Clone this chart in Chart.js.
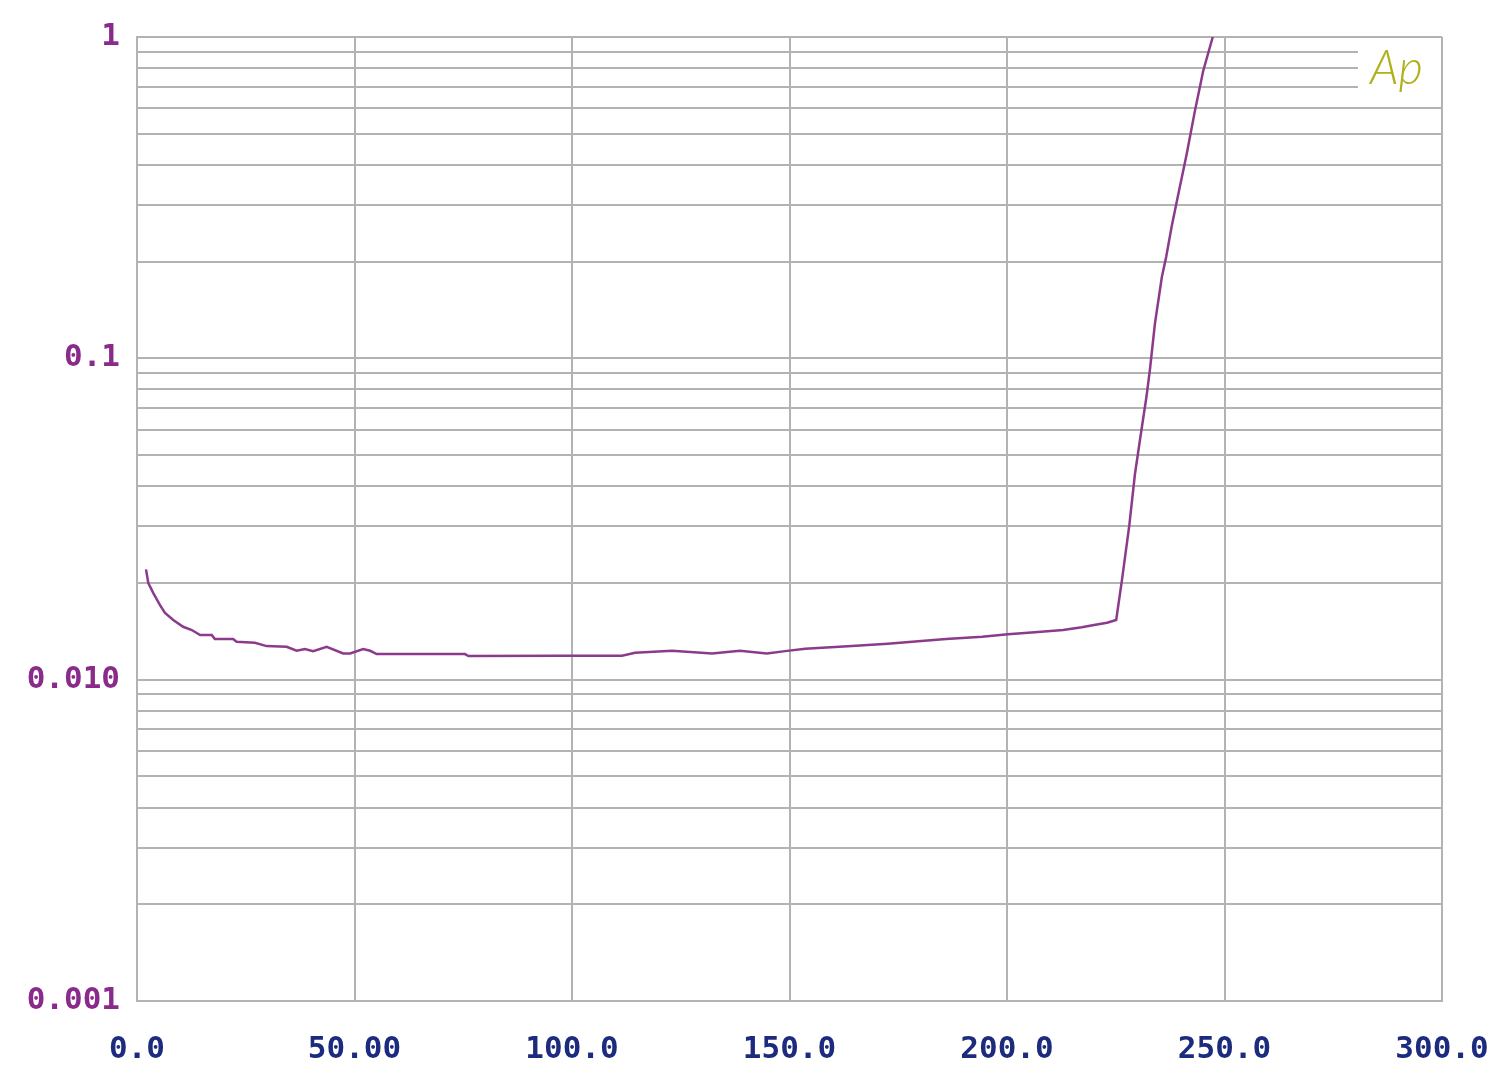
<!DOCTYPE html>
<html>
<head>
<meta charset="utf-8">
<script src="https://cdn.jsdelivr.net/npm/chart.js@4/dist/chart.umd.min.js"></script>
<style>
  html, body { margin: 0; padding: 0; background: #fff; }
  #wrap { width: 1500px; height: 1072px; position: relative; }
</style>
</head>
<body>
<div id="wrap"><canvas id="chart"></canvas></div>
<script>
const xValues = [
  2.07, 2.6, 3.75, 5.29, 6.44, 8.34, 10.6, 12.6, 14.5, 17.2, 17.9, 22.1, 22.9, 27.1,
  29.8, 34.4, 36.7, 38.6, 40.5, 43.6, 47.4, 49.0, 52.0, 53.6, 55.1, 75.4, 76.2, 97.2,
  111.5, 114.5, 123.0, 132.2, 138.6, 144.8, 149.0, 153.6, 163.4, 172.6, 178.2, 186.0,
  194.3, 200.2, 206.4, 212.9, 217.2, 220.0, 223.0, 225.1, 226.4, 228.1, 229.4, 230.6,
  232.1, 232.9, 234.0, 235.6, 236.6, 237.9, 239.4, 241.3, 243.2, 245.1, 247.3
];
const yValues = [
  0.02204, 0.01998, 0.01860, 0.01707, 0.01612, 0.01533, 0.01461, 0.01427, 0.01376, 0.01376, 0.01338, 0.01338, 0.01312, 0.01302,
  0.01272, 0.01266, 0.01230, 0.01245, 0.01227, 0.01266, 0.01207, 0.01207, 0.01245, 0.01230, 0.01201, 0.01201, 0.01184, 0.01187,
  0.01187, 0.01212, 0.01230, 0.01207, 0.01230, 0.01207, 0.01227, 0.01248, 0.01270, 0.01293, 0.01312, 0.01338,
  0.01360, 0.01384, 0.01404, 0.01427, 0.01455, 0.01479, 0.01503, 0.01533, 0.0203, 0.0301, 0.0435, 0.0561,
  0.0766, 0.0933, 0.128, 0.179, 0.207, 0.259, 0.325, 0.432, 0.589, 0.784, 1.0
];

const xTickValues = [0, 50, 100, 150, 200, 250, 300];
const xTickLabels = ['0.0', '50.00', '100.0', '150.0', '200.0', '250.0', '300.0'];

const yDecades = [1, 0.1, 0.01, 0.001];
const yDecadeLabels = ['1', '0.1', '0.010', '0.001'];
const yMultipliers = [1, 2, 3, 4, 5, 6, 7, 8, 9];

// all log grid positions 0.001 .. 1
const yGridValues = [];
[0.001, 0.01, 0.1].forEach(d => yMultipliers.forEach(m => yGridValues.push(+(d * m).toPrecision(3))));
yGridValues.push(1);

const gridColor = '#b3b3b3';
const labelFont = { family: 'DejaVu Sans Mono', size: 31, weight: 'bold' };

// white patch + "Ap" logo in the top right corner
const apLogo = {
  id: 'apLogo',
  beforeDatasetsDraw(chart) {
    const ctx = chart.ctx;
    const right = chart.chartArea.right;
    ctx.save();
    ctx.fillStyle = '#ffffff';
    ctx.fillRect(1358, 43, right - 1358 + 2, 55);
    // restore the right border under the patch
    ctx.strokeStyle = gridColor;
    ctx.lineWidth = 2;
    ctx.beginPath();
    ctx.moveTo(right, 42);
    ctx.lineTo(right, 99);
    ctx.stroke();
    ctx.fillStyle = '#b0b01c';
    ctx.font = 'italic 300 47px Lato';
    ctx.textBaseline = 'alphabetic';
    ctx.fillText('Ap', 1370, 84);
    ctx.restore();
  }
};

new Chart(document.getElementById('chart').getContext('2d'), {
  type: 'line',
  data: {
    datasets: [{
      data: xValues.map((x, i) => ({ x, y: yValues[i] })),
      borderColor: '#8c3a8c',
      borderWidth: 2.5,
      pointRadius: 0,
      tension: 0,
      fill: false
    }]
  },
  options: {
    responsive: true,
    maintainAspectRatio: false,
    animation: false,
    layout: { padding: { top: 37, right: 58, left: 0, bottom: 0 } },
    plugins: { legend: { display: false }, tooltip: { enabled: false } },
    scales: {
      x: {
        type: 'linear',
        min: 0,
        max: 300,
        afterFit: s => { s.height = 71; s.paddingLeft = 0; s.paddingRight = 0; },
        afterBuildTicks: s => { s.ticks = xTickValues.map(v => ({ value: v })); },
        grid: { color: gridColor, lineWidth: 2, drawTicks: false },
        border: { color: gridColor, width: 2 },
        ticks: {
          padding: 30,
          maxRotation: 0,
          autoSkip: false,
          color: '#1c2b7e',
          font: labelFont,
          callback: v => xTickLabels[xTickValues.indexOf(v)]
        }
      },
      y: {
        type: 'logarithmic',
        min: 0.001,
        max: 1,
        afterFit: s => { s.width = 137; s.paddingTop = 0; s.paddingBottom = 0; },
        afterBuildTicks: s => { s.ticks = yGridValues.map(v => ({ value: v })); },
        grid: { color: gridColor, lineWidth: 2, drawTicks: false },
        border: { color: gridColor, width: 2 },
        ticks: {
          padding: 17,
          autoSkip: false,
          color: '#8a2a8a',
          font: labelFont,
          callback: v => {
            const i = yDecades.findIndex(d => Math.abs(d - v) < d * 1e-6);
            return i >= 0 ? yDecadeLabels[i] : '';
          }
        }
      }
    }
  },
  plugins: [apLogo]
});
</script>
</body>
</html>
